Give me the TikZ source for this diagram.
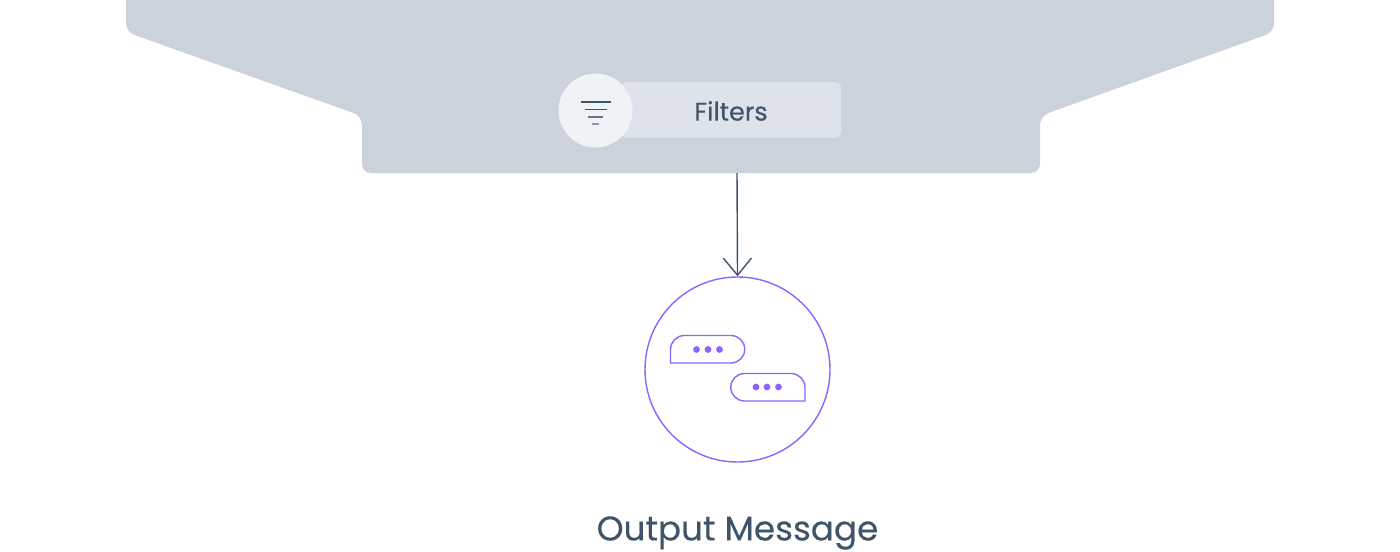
\documentclass[tikz,border=0pt]{standalone}
\usepackage{xcolor}
\usepackage{fontspec}
\setmainfont{Poppins}[FakeBold=0.2,BoldFont={*}]
\usetikzlibrary{calc,positioning,arrows.meta}
\definecolor{panelgrey}{HTML}{CBD2DB}
\definecolor{pillgrey}{HTML}{DEE3EB}
\definecolor{iconfill}{HTML}{F0F3F6}
\definecolor{textmain}{HTML}{3F5468}
\definecolor{chartpurple}{HTML}{8B63FF}
\begin{document}
\begin{tikzpicture}[
  x=0.5pt, y=-0.5pt,
  filterline/.style={draw=textmain, line width=0.6pt},
  bubble/.style={draw=chartpurple, line width=0.7pt},
  bubbledot/.style={circle, fill=chartpurple, inner sep=0pt, minimum size=3.4pt},
  flowarrow/.style={draw=textmain, line width=0.7pt, -{Straight Barb[length=8.5pt,width=14pt,line width=0.7pt]}},
]
\useasboundingbox (0,0) rectangle (1400,551);

% panel
\fill[panelgrey, rounded corners=4.5pt] (126,-20) -- (126,32) -- (362,116) -- (362,173) -- (1040,173) -- (1040,116) -- (1274,32) -- (1274,-20) -- cycle;
\coordinate (panelexit) at (737,173);

% filters
\node[fill=pillgrey, rounded corners=2.5pt, minimum width=110.5pt, minimum height=27.5pt, inner sep=0pt] (filterpill) at (730.5,110) {};
\node[circle, fill=iconfill, minimum size=37pt, inner sep=0pt] (filtericon) at (595.5,110.5) {};
\node[text=textmain, font=\fontsize{12.75}{15}\selectfont\bfseries] (filterlabel) at (731,111) {Filters};
\draw[filterline] (581,102) -- (611,102);
\draw[filterline] (585,109.5) -- (607,109.5);
\draw[filterline, draw=textmain!80] (588,117) -- (603,117);
\draw[filterline, draw=textmain!60] (592,124) -- (599,124);

% output
\node[circle, draw=chartpurple, line width=0.7pt, minimum size=92.5pt, inner sep=0pt] (outputcircle) at (737.5,369.5) {};
\draw[flowarrow] (panelexit) -- (outputcircle.north);

\draw[bubble] (670.5,363) -- (670.5,349.5) arc[start angle=180, end angle=90, radius=7pt] -- (731,335.5) arc[start angle=90, end angle=-90, radius=6.87pt] -- cycle;
\draw[bubble] (805,401) -- (805,387.5) arc[start angle=0, end angle=90, radius=7pt] -- (744.5,373.5) arc[start angle=90, end angle=270, radius=6.87pt] -- cycle;

\foreach \dotx in {696.5,708,719.5} \node[bubbledot] (dota\dotx) at (\dotx,349.5) {};
\foreach \dotx in {756,767,778.5} \node[bubbledot] (dotb\dotx) at (\dotx,387) {};

\node[text=textmain, font=\fontsize{17.1}{22}\selectfont\bfseries] (outputlabel) at (737.5,533) {Output Message};
\end{tikzpicture}
\end{document}
